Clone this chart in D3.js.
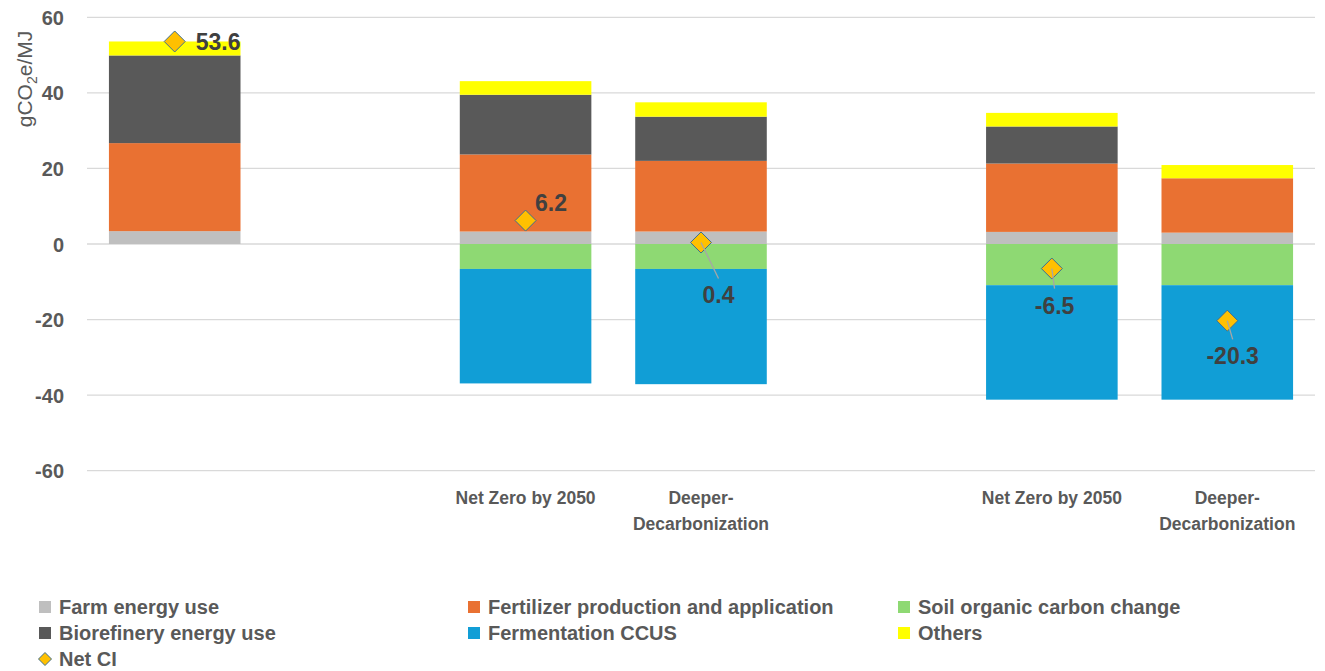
<!DOCTYPE html>
<html>
<head>
<meta charset="utf-8">
<script src="https://cdn.jsdelivr.net/npm/d3@7"></script>
<style>
  html, body { margin: 0; padding: 0; background: #ffffff; }
  svg { display: block; font-family: "Liberation Sans", Arial, sans-serif; }
</style>
</head>
<body>
<svg id="chart" width="1325" height="671"></svg>
<script>
// Carbon intensity breakdown per scenario (gCO2e/MJ)
const categoryKeys   = ["base", "gap1", "nz1", "dd1", "gap2", "nz2", "dd2"];
const categoryLabels = [[], [], ["Net Zero by 2050"], ["Deeper-", "Decarbonization"], [], ["Net Zero by 2050"], ["Deeper-", "Decarbonization"]];

const seriesNames  = ["Farm energy use", "Fertilizer production and application", "Soil organic carbon change",
                      "Biorefinery energy use", "Fermentation CCUS", "Others"];
const seriesColors = ["#BFBFBF", "#E97132", "#8ED973", "#595959", "#119ED6", "#FFFF00"];

// One value per category (null = empty slot)
const farmEnergy    = [3.4,  null, 3.3,   3.3,   null, 3.2,   3.0];
const fertilizer    = [23.3, null, 20.4,  18.7,  null, 18.1,  14.4];
const soilCarbon    = [0,    null, -6.6,  -6.6,  null, -10.9, -10.9];
const biorefinery   = [23.2, null, 15.8,  11.7,  null, 9.8,   0];
const fermentation  = [0,    null, -30.3, -30.5, null, -30.3, -30.3];
const others        = [3.7,  null, 3.6,   3.8,   null, 3.6,   3.5];
const netCI         = [53.6, null, 6.2,   0.4,   null, -6.5,  -20.3];

const yTicks = [60, 40, 20, 0, -20, -40, -60];

// Label placement relative to each marker: [dx, dy, anchor, leader line?]
const labelPlacement = [[21, 9, "start", false], null, [25.5, -10, "middle", false], [17.5, 61, "middle", true],
                        null, [2.7, 45, "middle", true], [5.4, 43.7, "middle", true]];

const seriesValues = [farmEnergy, fertilizer, soilCarbon, biorefinery, fermentation, others];

const table = categoryKeys.map((k, i) => {
  const row = { key: k };
  seriesNames.forEach((s, j) => { row[s] = seriesValues[j][i] == null ? 0 : seriesValues[j][i]; });
  return row;
});

const svg = d3.select("#chart");
const tickColor = "#595959";
const labelColor = "#404040";
const hyphen = s => s.replace("\u2212", "-");

const x = d3.scaleBand().domain(categoryKeys).range([87, 1315]).paddingInner(0.25).paddingOuter(0.125);
const y = d3.scaleLinear().domain([-60, 60]).range([470.7, 17.3]);

// Gridlines
svg.append("g")
  .selectAll("line").data(yTicks).join("line")
  .attr("x1", 87).attr("x2", 1315)
  .attr("y1", d => y(d)).attr("y2", d => y(d))
  .attr("stroke", "#D9D9D9").attr("stroke-width", 1.3);

// Y axis tick labels
const yAxis = d3.axisLeft(y).tickValues(yTicks).tickSize(0).tickPadding(0).tickFormat(d => hyphen(d3.format("d")(d)));
const yg = svg.append("g").attr("transform", "translate(64,0)").call(yAxis);
yg.select(".domain").remove();
yg.selectAll("text")
  .attr("fill", tickColor).attr("font-size", "20px").attr("font-weight", "bold")
  .attr("font-family", "'Liberation Sans', Arial, sans-serif").attr("dy", "0.35em");

// Y axis title
const yTitle = svg.append("text")
  .attr("transform", "translate(32,79) rotate(-90)")
  .attr("text-anchor", "middle")
  .attr("fill", tickColor).attr("font-size", "21px");
yTitle.append("tspan").text("gCO");
yTitle.append("tspan").text("2").attr("font-size", "14px").attr("dy", "5");
yTitle.append("tspan").text("e/MJ").attr("dy", "-5");

// Stacked bars
const stack = d3.stack().keys(seriesNames).offset(d3.stackOffsetDiverging);
const stacked = stack(table);

svg.append("g").selectAll("g").data(stacked).join("g")
  .attr("fill", (d, i) => seriesColors[i])
  .selectAll("rect").data(d => d.filter(p => seriesValues[seriesNames.indexOf(d.key)][categoryKeys.indexOf(p.data.key)] != null))
  .join("rect")
  .attr("x", p => x(p.data.key))
  .attr("width", x.bandwidth())
  .attr("y", p => y(Math.max(p[0], p[1])))
  .attr("height", p => Math.abs(y(p[0]) - y(p[1])));

// Category labels
const catG = svg.append("g");
categoryKeys.forEach((k, i) => {
  categoryLabels[i].forEach((line, li) => {
    catG.append("text")
      .attr("x", x(k) + x.bandwidth() / 2)
      .attr("y", 504 + li * 26)
      .attr("text-anchor", "middle")
      .attr("fill", tickColor).attr("font-size", "17.5px").attr("font-weight", "bold")
      .text(line);
  });
});

// Net CI markers and labels
const diamond = r => `M0,${-r}L${r},0L0,${r}L${-r},0Z`;
const netG = svg.append("g");
netCI.forEach((v, i) => {
  if (v == null) return;
  const cx = x(categoryKeys[i]) + x.bandwidth() / 2;
  const cy = y(v);
  const pl = labelPlacement[i];
  netG.append("path")
    .attr("d", diamond(10.5))
    .attr("transform", `translate(${cx},${cy})`)
    .attr("fill", "#FFC000").attr("stroke", "#3F6F8F").attr("stroke-width", 1);
  if (pl[3]) {
    netG.append("line")
      .attr("x1", cx).attr("y1", cy)
      .attr("x2", cx + pl[0]).attr("y2", cy + pl[1] - 25)
      .attr("stroke", "#A6A6A6").attr("stroke-width", 1.3);
  }
  netG.append("text")
    .attr("x", cx + pl[0]).attr("y", cy + pl[1])
    .attr("text-anchor", pl[2])
    .attr("fill", labelColor).attr("font-size", "23px").attr("font-weight", "bold")
    .text(hyphen(d3.format(".1f")(v)));
});

// Legend
const legendItems = seriesNames.map((s, i) => ({ name: s, color: seriesColors[i], type: "rect" }))
  .concat([{ name: "Net CI", type: "diamond" }]);
const colX = [39, 468, 898];
const rowY = [607, 633, 659];
const lg = svg.append("g");
legendItems.forEach((it, i) => {
  const cx = colX[i % 3], cy = rowY[Math.floor(i / 3)];
  if (it.type === "rect") {
    lg.append("rect").attr("x", cx).attr("y", cy - 6).attr("width", 12).attr("height", 12).attr("fill", it.color);
  } else {
    lg.append("path").attr("d", diamond(6.5)).attr("transform", `translate(${cx + 6},${cy})`)
      .attr("fill", "#FFC000").attr("stroke", "#3F6F8F").attr("stroke-width", 1);
  }
  lg.append("text")
    .attr("x", cx + 20).attr("y", cy).attr("dy", "0.36em")
    .attr("fill", tickColor).attr("font-size", "20px").attr("font-weight", "bold")
    .text(it.name);
});
</script>
</body>
</html>
